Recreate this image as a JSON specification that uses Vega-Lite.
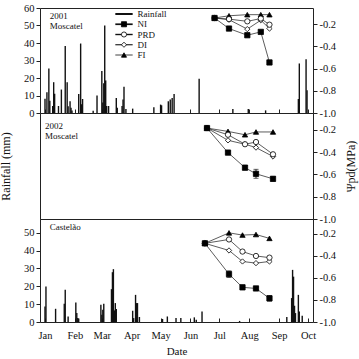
{
  "$schema": "https://vega.github.io/schema/vega-lite/v6.json",
  "autosize": {"type": "none"},
  "padding": {"left": 40, "top": 8, "right": 319, "bottom": 351},
  "bounds": "flush",
  "spacing": 0,
  "resolve": {"scale": {"x": "independent", "shape": "independent", "fill": "independent"}},
  "config": {
    "font": "Liberation Serif, Times New Roman, Times, serif",
    "view": {"stroke": "#222", "strokeWidth": 1},
    "axis": {"labelFont": "Liberation Serif, Times New Roman, Times, serif", "titleFont": "Liberation Serif, Times New Roman, Times, serif", "labelFontSize": 10.5, "titleFontSize": 12, "titleFontWeight": "normal", "labelColor": "#111", "titleColor": "#111", "tickColor": "#222", "domain": false, "grid": false, "tickSize": 4, "labelPadding": 2, "labelOverlap": false},
    "text": {"font": "Liberation Serif, Times New Roman, Times, serif", "fontSize": 9, "color": "#111"}
  },
  "datasets": {
    "rain2001": [
      {"date": "2001/01/01", "mm": 8.2}, {"date": "2001/01/03", "mm": 11.9}, {"date": "2001/01/05", "mm": 25.5}, {"date": "2001/01/06", "mm": 7},
      {"date": "2001/01/09", "mm": 4}, {"date": "2001/01/10", "mm": 17.6}, {"date": "2001/01/11", "mm": 11}, {"date": "2001/01/15", "mm": 4},
      {"date": "2001/01/18", "mm": 13.4}, {"date": "2001/01/22", "mm": 38.3}, {"date": "2001/01/24", "mm": 17.6}, {"date": "2001/01/25", "mm": 3.8},
      {"date": "2001/01/27", "mm": 6.7}, {"date": "2001/01/28", "mm": 3}, {"date": "2001/01/29", "mm": 1.5}, {"date": "2001/02/05", "mm": 10.9},
      {"date": "2001/02/07", "mm": 39.7}, {"date": "2001/02/08", "mm": 5}, {"date": "2001/02/09", "mm": 8}, {"date": "2001/02/20", "mm": 1.3},
      {"date": "2001/02/24", "mm": 10}, {"date": "2001/03/01", "mm": 24}, {"date": "2001/03/02", "mm": 6}, {"date": "2001/03/03", "mm": 17},
      {"date": "2001/03/04", "mm": 50}, {"date": "2001/03/05", "mm": 18.6}, {"date": "2001/03/06", "mm": 4}, {"date": "2001/03/08", "mm": 4},
      {"date": "2001/03/16", "mm": 8.6}, {"date": "2001/03/17", "mm": 3}, {"date": "2001/03/22", "mm": 4}, {"date": "2001/03/23", "mm": 7.7},
      {"date": "2001/03/24", "mm": 15}, {"date": "2001/03/26", "mm": 2.3}, {"date": "2001/04/02", "mm": 2.5}, {"date": "2001/04/24", "mm": 3.3},
      {"date": "2001/05/01", "mm": 4.8}, {"date": "2001/05/02", "mm": 4.4}, {"date": "2001/05/09", "mm": 6.7}, {"date": "2001/05/11", "mm": 7.7},
      {"date": "2001/05/13", "mm": 8.6}, {"date": "2001/05/15", "mm": 10.9}, {"date": "2001/06/10", "mm": 19.6}, {"date": "2001/07/15", "mm": 2.3},
      {"date": "2001/07/31", "mm": 2.3}, {"date": "2001/08/18", "mm": 1.5}, {"date": "2001/09/21", "mm": 8}, {"date": "2001/09/22", "mm": 28.3},
      {"date": "2001/09/29", "mm": 30.7}, {"date": "2001/09/30", "mm": 13}
    ],
    "rainCastelao": [
      {"date": "2002/01/01", "mm": 8.7}, {"date": "2002/01/02", "mm": 19.9}, {"date": "2002/01/12", "mm": 7.4}, {"date": "2002/01/21", "mm": 10.2},
      {"date": "2002/01/22", "mm": 18}, {"date": "2002/01/25", "mm": 3.1}, {"date": "2002/02/02", "mm": 10.9}, {"date": "2002/02/03", "mm": 5},
      {"date": "2002/02/04", "mm": 2.2}, {"date": "2002/02/05", "mm": 2}, {"date": "2002/02/28", "mm": 9.7}, {"date": "2002/03/01", "mm": 4},
      {"date": "2002/03/02", "mm": 6.9}, {"date": "2002/03/03", "mm": 10.2}, {"date": "2002/03/11", "mm": 18.4}, {"date": "2002/03/12", "mm": 27.9},
      {"date": "2002/03/13", "mm": 29.6}, {"date": "2002/03/14", "mm": 6.5}, {"date": "2002/03/15", "mm": 10.6}, {"date": "2002/03/16", "mm": 7.3},
      {"date": "2002/04/02", "mm": 6.3}, {"date": "2002/04/03", "mm": 2.2}, {"date": "2002/04/05", "mm": 15.2}, {"date": "2002/04/06", "mm": 10.6},
      {"date": "2002/04/07", "mm": 10.6}, {"date": "2002/04/09", "mm": 2.8}, {"date": "2002/05/03", "mm": 1.7}, {"date": "2002/05/08", "mm": 3.1},
      {"date": "2002/05/17", "mm": 2.2}, {"date": "2002/05/22", "mm": 2.2}, {"date": "2002/06/05", "mm": 2.6}, {"date": "2002/06/07", "mm": 1.3},
      {"date": "2002/06/13", "mm": 5.9}, {"date": "2002/07/22", "mm": 0.6}, {"date": "2002/09/09", "mm": 2.8}, {"date": "2002/09/14", "mm": 13.4},
      {"date": "2002/09/15", "mm": 29.2}, {"date": "2002/09/16", "mm": 25.4}, {"date": "2002/09/17", "mm": 9.1}, {"date": "2002/09/18", "mm": 5},
      {"date": "2002/09/21", "mm": 15.2}, {"date": "2002/09/22", "mm": 5.9}, {"date": "2002/09/25", "mm": 3.5}
    ],
    "legendItems": [
      {"trt": "Rainfall"}, {"trt": "NI"}, {"trt": "PRD"}, {"trt": "DI"}, {"trt": "FI"}
    ],
    "psi": [
      {"panel": "M2001", "trt": "FI", "date": "2001/06/26", "psi": -0.145}, {"panel": "M2001", "trt": "FI", "date": "2001/07/11", "psi": -0.125},
      {"panel": "M2001", "trt": "FI", "date": "2001/07/30", "psi": -0.115}, {"panel": "M2001", "trt": "FI", "date": "2001/08/13", "psi": -0.115},
      {"panel": "M2001", "trt": "FI", "date": "2001/08/22", "psi": -0.115},
      {"panel": "M2001", "trt": "DI", "date": "2001/06/26", "psi": -0.145}, {"panel": "M2001", "trt": "DI", "date": "2001/07/11", "psi": -0.16},
      {"panel": "M2001", "trt": "DI", "date": "2001/07/30", "psi": -0.245}, {"panel": "M2001", "trt": "DI", "date": "2001/08/13", "psi": -0.165},
      {"panel": "M2001", "trt": "DI", "date": "2001/08/22", "psi": -0.24},
      {"panel": "M2001", "trt": "PRD", "date": "2001/06/26", "psi": -0.145}, {"panel": "M2001", "trt": "PRD", "date": "2001/07/11", "psi": -0.155},
      {"panel": "M2001", "trt": "PRD", "date": "2001/07/30", "psi": -0.175}, {"panel": "M2001", "trt": "PRD", "date": "2001/08/13", "psi": -0.15},
      {"panel": "M2001", "trt": "PRD", "date": "2001/08/22", "psi": -0.205},
      {"panel": "M2001", "trt": "NI", "date": "2001/06/26", "psi": -0.145}, {"panel": "M2001", "trt": "NI", "date": "2001/07/11", "psi": -0.24},
      {"panel": "M2001", "trt": "NI", "date": "2001/07/30", "psi": -0.3}, {"panel": "M2001", "trt": "NI", "date": "2001/08/13", "psi": -0.27},
      {"panel": "M2001", "trt": "NI", "date": "2001/08/22", "psi": -0.545, "lo": -0.56, "hi": -0.53},

      {"panel": "M2002", "trt": "FI", "date": "2002/06/17", "psi": -0.185}, {"panel": "M2002", "trt": "FI", "date": "2002/07/08", "psi": -0.215},
      {"panel": "M2002", "trt": "FI", "date": "2002/07/25", "psi": -0.245}, {"panel": "M2002", "trt": "FI", "date": "2002/08/05", "psi": -0.22},
      {"panel": "M2002", "trt": "FI", "date": "2002/08/22", "psi": -0.22},
      {"panel": "M2002", "trt": "DI", "date": "2002/06/17", "psi": -0.185}, {"panel": "M2002", "trt": "DI", "date": "2002/07/08", "psi": -0.295},
      {"panel": "M2002", "trt": "DI", "date": "2002/07/25", "psi": -0.33}, {"panel": "M2002", "trt": "DI", "date": "2002/08/05", "psi": -0.36},
      {"panel": "M2002", "trt": "DI", "date": "2002/08/22", "psi": -0.44},
      {"panel": "M2002", "trt": "PRD", "date": "2002/06/17", "psi": -0.185}, {"panel": "M2002", "trt": "PRD", "date": "2002/07/08", "psi": -0.245},
      {"panel": "M2002", "trt": "PRD", "date": "2002/07/25", "psi": -0.33}, {"panel": "M2002", "trt": "PRD", "date": "2002/08/05", "psi": -0.31},
      {"panel": "M2002", "trt": "PRD", "date": "2002/08/22", "psi": -0.42},
      {"panel": "M2002", "trt": "NI", "date": "2002/06/17", "psi": -0.185}, {"panel": "M2002", "trt": "NI", "date": "2002/07/08", "psi": -0.405, "lo": -0.415, "hi": -0.395},
      {"panel": "M2002", "trt": "NI", "date": "2002/07/25", "psi": -0.54, "lo": -0.56, "hi": -0.52}, {"panel": "M2002", "trt": "NI", "date": "2002/08/05", "psi": -0.595, "lo": -0.635, "hi": -0.555},
      {"panel": "M2002", "trt": "NI", "date": "2002/08/22", "psi": -0.64, "lo": -0.66, "hi": -0.62},

      {"panel": "C2002", "trt": "FI", "date": "2002/06/16", "psi": -0.285}, {"panel": "C2002", "trt": "FI", "date": "2002/07/11", "psi": -0.19},
      {"panel": "C2002", "trt": "FI", "date": "2002/07/25", "psi": -0.21}, {"panel": "C2002", "trt": "FI", "date": "2002/08/08", "psi": -0.205},
      {"panel": "C2002", "trt": "FI", "date": "2002/08/22", "psi": -0.24},
      {"panel": "C2002", "trt": "DI", "date": "2002/06/16", "psi": -0.285}, {"panel": "C2002", "trt": "DI", "date": "2002/07/11", "psi": -0.35},
      {"panel": "C2002", "trt": "DI", "date": "2002/07/25", "psi": -0.45}, {"panel": "C2002", "trt": "DI", "date": "2002/08/08", "psi": -0.465},
      {"panel": "C2002", "trt": "DI", "date": "2002/08/22", "psi": -0.45},
      {"panel": "C2002", "trt": "PRD", "date": "2002/06/16", "psi": -0.285}, {"panel": "C2002", "trt": "PRD", "date": "2002/07/11", "psi": -0.25},
      {"panel": "C2002", "trt": "PRD", "date": "2002/07/25", "psi": -0.36}, {"panel": "C2002", "trt": "PRD", "date": "2002/08/08", "psi": -0.4},
      {"panel": "C2002", "trt": "PRD", "date": "2002/08/22", "psi": -0.415},
      {"panel": "C2002", "trt": "NI", "date": "2002/06/16", "psi": -0.285}, {"panel": "C2002", "trt": "NI", "date": "2002/07/11", "psi": -0.565, "lo": -0.595, "hi": -0.535},
      {"panel": "C2002", "trt": "NI", "date": "2002/07/25", "psi": -0.685, "lo": -0.705, "hi": -0.665}, {"panel": "C2002", "trt": "NI", "date": "2002/08/08", "psi": -0.695, "lo": -0.705, "hi": -0.685},
      {"panel": "C2002", "trt": "NI", "date": "2002/08/22", "psi": -0.785, "lo": -0.81, "hi": -0.76}
    ]
  },
  "vconcat": [
    {
      "width": 273, "height": 105,
      "layer": [
        {"layer": [
          {"data": {"name": "rain2001"}, "mark": {"type": "bar", "width": 1.4, "color": "#111"},
           "encoding": {
             "x": {"field": "date", "type": "temporal", "scale": {"domain": [{"year": 2001, "month": 1, "date": 1}, {"year": 2001, "month": 10, "date": 1}]}, "axis": {"labels": false, "title": null, "tickSize": -4, "tickCount": {"interval": "month", "step": 1}}},
             "y": {"field": "mm", "type": "quantitative", "scale": {"domain": [0, 60]}, "axis": {"orient": "left", "values": [0, 10, 20, 30, 40, 50, 60], "tickCount": 30, "title": null}}}},
          {"data": {"values": [{"label": "2001 Moscatel"}]}, "mark": {"type": "text", "text": ["2001", "Moscatel"], "align": "left", "baseline": "top", "lineHeight": 10},
           "encoding": {"x": {"datum": {"year": 2001, "month": 1, "date": 6}, "type": "temporal"}, "y": {"datum": 57.7, "type": "quantitative"}}}
        ]},
        {"data": {"name": "psi"}, "transform": [{"filter": "datum.panel === 'M2001'"}],
         "layer": [
          {"mark": {"type": "line", "color": "#333", "strokeWidth": 0.8},
           "encoding": {"x": {"field": "date", "type": "temporal"}, "y": {"field": "psi", "type": "quantitative", "title": null, "scale": {"domain": [-1, -0.055], "zero": false, "nice": false},
              "axis": {"orient": "right", "values": [-1, -0.8, -0.6, -0.4, -0.2], "tickCount": 30, "labelExpr": "replace(format(datum.value, '.1f'), '\u2212', '-')"}}, "detail": {"field": "trt"}}},
          {"transform": [{"filter": "isValid(datum.lo)"}], "mark": {"type": "errorbar", "ticks": true, "color": "#222"},
           "encoding": {"x": {"field": "date", "type": "temporal"}, "y": {"field": "lo", "type": "quantitative", "title": null}, "y2": {"field": "hi"}}},
          {"mark": {"type": "point", "filled": true, "stroke": "black", "strokeWidth": 0.8, "size": 28, "opacity": 1},
           "encoding": {
             "x": {"field": "date", "type": "temporal"}, "y": {"field": "psi", "type": "quantitative", "title": null},
             "shape": {"field": "trt", "type": "nominal", "scale": {"domain": ["Rainfall", "NI", "PRD", "DI", "FI"], "range": ["square", "square", "circle", "diamond", "triangle-up"]}, "legend": null},
             "fill": {"field": "trt", "type": "nominal", "scale": {"domain": ["Rainfall", "NI", "PRD", "DI", "FI"], "range": ["black", "black", "white", "white", "black"]}, "legend": null}
           }}
         ]},
        {"data": {"name": "legendItems"},
         "encoding": {"y": {"field": "trt", "type": "nominal", "sort": null, "scale": {"type": "point", "domain": ["Rainfall", "NI", "PRD", "DI", "FI"], "range": [6, 47], "padding": 0}, "axis": null}},
         "layer": [
          {"mark": {"type": "rule", "color": "#111"},
           "encoding": {"x": {"datum": {"year": 2001, "month": 3, "date": 15}, "type": "temporal"}, "x2": {"datum": {"year": 2001, "month": 4, "date": 2}},
             "strokeWidth": {"field": "trt", "type": "nominal", "scale": {"domain": ["Rainfall", "NI", "PRD", "DI", "FI"], "range": [2, 0.8, 0.8, 0.8, 0.8]}, "legend": null}}},
          {"transform": [{"filter": "datum.trt !== 'Rainfall'"}], "mark": {"type": "point", "filled": true, "stroke": "black", "strokeWidth": 0.8, "size": 26, "opacity": 1},
           "encoding": {"x": {"datum": {"year": 2001, "month": 3, "date": 24}, "type": "temporal"},
             "shape": {"field": "trt", "type": "nominal", "legend": null},
             "fill": {"field": "trt", "type": "nominal", "legend": null}}},
          {"mark": {"type": "text", "align": "left", "baseline": "middle", "fontSize": 9},
           "encoding": {"x": {"datum": {"year": 2001, "month": 4, "date": 7}, "type": "temporal"}, "text": {"field": "trt"}}}
         ]}
      ],
      "resolve": {"scale": {"y": "independent"}}
    },
    {
      "width": 273, "height": 106,
      "layer": [
        {"data": {"values": [{"label": "2002 Moscatel"}]}, "mark": {"type": "text", "text": ["2002", "Moscatel"], "align": "left", "baseline": "top", "lineHeight": 10},
         "encoding": {"x": {"datum": {"year": 2002, "month": 1, "date": 6}, "type": "temporal", "axis": null},
           "y": {"datum": 54.9, "type": "quantitative", "scale": {"domain": [0, 60]}, "axis": {"orient": "left", "labels": false, "ticks": false, "title": "Rainfall (mm)", "titlePadding": 28}}}},
        {"data": {"name": "psi"}, "transform": [{"filter": "datum.panel === 'M2002'"}],
         "layer": [
          {"mark": {"type": "line", "color": "#333", "strokeWidth": 0.8},
           "encoding": {"x": {"field": "date", "type": "temporal", "scale": {"domain": [{"year": 2002, "month": 1, "date": 1}, {"year": 2002, "month": 10, "date": 1}]}, "axis": null},
             "y": {"field": "psi", "type": "quantitative", "title": "Ψpd(MPa)", "scale": {"domain": [-1, -0.05], "zero": false, "nice": false},
              "axis": {"orient": "right", "values": [-1, -0.8, -0.6, -0.4, -0.2], "tickCount": 30, "labelExpr": "replace(format(datum.value, '.1f'), '\u2212', '-')", "titleAngle": 270, "titleBaseline": "top", "titlePadding": 10}},
             "detail": {"field": "trt"}}},
          {"transform": [{"filter": "isValid(datum.lo)"}], "mark": {"type": "errorbar", "ticks": true, "color": "#222"},
           "encoding": {"x": {"field": "date", "type": "temporal"}, "y": {"field": "lo", "type": "quantitative", "title": "Ψpd(MPa)"}, "y2": {"field": "hi"}}},
          {"mark": {"type": "point", "filled": true, "stroke": "black", "strokeWidth": 0.8, "size": 28, "opacity": 1},
           "encoding": {
             "x": {"field": "date", "type": "temporal"}, "y": {"field": "psi", "type": "quantitative", "title": "Ψpd(MPa)"},
             "shape": {"field": "trt", "type": "nominal", "scale": {"domain": ["Rainfall", "NI", "PRD", "DI", "FI"], "range": ["square", "square", "circle", "diamond", "triangle-up"]}, "legend": null},
             "fill": {"field": "trt", "type": "nominal", "scale": {"domain": ["Rainfall", "NI", "PRD", "DI", "FI"], "range": ["black", "black", "white", "white", "black"]}, "legend": null}
           }}
         ]}
      ],
      "resolve": {"scale": {"y": "independent"}}
    },
    {
      "width": 273, "height": 103,
      "layer": [
        {"layer": [
          {"data": {"name": "rainCastelao"}, "mark": {"type": "bar", "width": 1.4, "color": "#111"},
           "encoding": {
             "x": {"field": "date", "type": "temporal", "scale": {"domain": [{"year": 2002, "month": 1, "date": 1}, {"year": 2002, "month": 10, "date": 1}]},
               "axis": {"format": "%b", "title": "Date", "titleFontSize": 11, "tickSize": -4, "labelPadding": 12, "titlePadding": 5, "labelFlush": false, "tickCount": {"interval": "month", "step": 1}}},
             "y": {"field": "mm", "type": "quantitative", "scale": {"domain": [0, 57.7], "nice": false}, "axis": {"orient": "left", "values": [0, 10, 20, 30, 40, 50], "tickCount": 30, "title": null}}}},
          {"data": {"values": [{"label": "Castelão"}]}, "mark": {"type": "text", "text": "Castelão", "align": "left", "baseline": "top"},
           "encoding": {"x": {"datum": {"year": 2002, "month": 1, "date": 6}, "type": "temporal"}, "y": {"datum": 55.2, "type": "quantitative"}}}
        ]},
        {"data": {"name": "psi"}, "transform": [{"filter": "datum.panel === 'C2002'"}],
         "layer": [
          {"mark": {"type": "line", "color": "#333", "strokeWidth": 0.8},
           "encoding": {"x": {"field": "date", "type": "temporal"}, "y": {"field": "psi", "type": "quantitative", "title": null, "scale": {"domain": [-1, -0.064], "zero": false, "nice": false},
              "axis": {"orient": "right", "values": [-1, -0.8, -0.6, -0.4, -0.2], "tickCount": 30, "labelExpr": "replace(format(datum.value, '.1f'), '\u2212', '-')"}}, "detail": {"field": "trt"}}},
          {"transform": [{"filter": "isValid(datum.lo)"}], "mark": {"type": "errorbar", "ticks": true, "color": "#222"},
           "encoding": {"x": {"field": "date", "type": "temporal"}, "y": {"field": "lo", "type": "quantitative", "title": null}, "y2": {"field": "hi"}}},
          {"mark": {"type": "point", "filled": true, "stroke": "black", "strokeWidth": 0.8, "size": 28, "opacity": 1},
           "encoding": {
             "x": {"field": "date", "type": "temporal"}, "y": {"field": "psi", "type": "quantitative", "title": null},
             "shape": {"field": "trt", "type": "nominal", "scale": {"domain": ["Rainfall", "NI", "PRD", "DI", "FI"], "range": ["square", "square", "circle", "diamond", "triangle-up"]}, "legend": null},
             "fill": {"field": "trt", "type": "nominal", "scale": {"domain": ["Rainfall", "NI", "PRD", "DI", "FI"], "range": ["black", "black", "white", "white", "black"]}, "legend": null}
           }}
         ]}
      ],
      "resolve": {"scale": {"y": "independent"}}
    }
  ]
}
